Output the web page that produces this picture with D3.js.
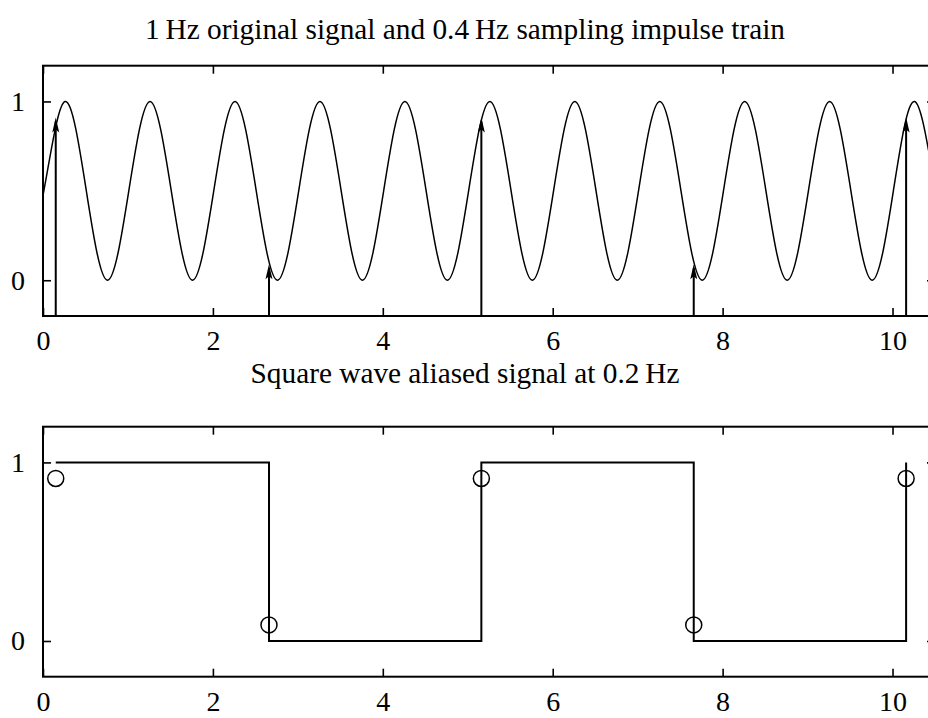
<!DOCTYPE html>
<html><head><meta charset="utf-8">
<script src="https://cdn.jsdelivr.net/npm/d3@7"></script>
<style>body{margin:0;background:#fff}svg{display:block}text{font-family:"Liberation Serif","Times New Roman",serif;fill:#000}</style>
</head><body><svg id="c" width="928" height="718"></svg>
<script>
// ---- data ----
const titleTop = "1\u2009Hz original signal and 0.4\u2009Hz sampling impulse train";
const titleBottom = "Square wave aliased signal at 0.2\u2009Hz";
const xTicks = [0, 2, 4, 6, 8, 10];
const yTicks = [0, 1];
// original 1 Hz signal: crossings, peaks and troughs
const signalT = [-0.24, 0.01, 0.26, 0.51, 0.76, 1.01, 1.26, 1.51, 1.76, 2.01, 2.26, 2.51, 2.76,
  3.01, 3.26, 3.51, 3.76, 4.01, 4.26, 4.51, 4.76, 5.01, 5.26, 5.51, 5.76, 6.01, 6.26, 6.51, 6.76,
  7.01, 7.26, 7.51, 7.76, 8.01, 8.26, 8.51, 8.76, 9.01, 9.26, 9.51, 9.76, 10.01, 10.26, 10.51, 10.76];
const signalV = [0, 0.5, 1, 0.5, 0, 0.5, 1, 0.5, 0, 0.5, 1, 0.5, 0,
  0.5, 1, 0.5, 0, 0.5, 1, 0.5, 0, 0.5, 1, 0.5, 0, 0.5, 1, 0.5, 0,
  0.5, 1, 0.5, 0, 0.5, 1, 0.5, 0, 0.5, 1, 0.5, 0, 0.5, 1, 0.5, 0];
// sampling instants and sampled values
const sampleT = [0.15, 2.66, 5.16, 7.66, 10.16];
const sampleV = [0.91, 0.09, 0.91, 0.09, 0.91];
// aliased square wave levels at each sample instant
const squareV = [1, 0, 1, 0, 1];

const svg = d3.select("#c");
const x = d3.scaleLinear().domain([0, 10.5]).range([43, 935]);
const panels = [
  {y: d3.scaleLinear().domain([-0.2, 1.2]).range([316, 65.7]), title: titleTop, ty: 39},
  {y: d3.scaleLinear().domain([-0.2, 1.2]).range([676.7, 426.7]), title: titleBottom, ty: 383}
];

panels.forEach((p, i) => {
  const [yb, yt] = p.y.range();
  const g = svg.append("g");
  const cid = "clip" + i;
  svg.append("clipPath").attr("id", cid).append("rect")
    .attr("x", x(0)).attr("y", yt).attr("width", x(10.5) - x(0)).attr("height", yb - yt);

  // axes with inward ticks
  const ax = (gen, tx, ty2) => {
    const a = g.append("g").attr("transform", `translate(${tx},${ty2})`).call(gen);
    a.select(".domain").remove();
    a.selectAll("line").attr("stroke", "#000").attr("stroke-width", 1.6);
    a.selectAll("text").attr("font-size", 28).attr("font-family", "Liberation Serif");
    return a;
  };
  const fmt = d3.format("d");
  ax(d3.axisBottom(x).tickValues(xTicks).tickFormat(fmt).tickSizeInner(-8).tickSizeOuter(0).tickPadding(14), 0, yb);
  ax(d3.axisTop(x).tickValues(xTicks).tickSizeInner(-8).tickSizeOuter(0).tickFormat(""), 0, yt);
  ax(d3.axisLeft(p.y).tickValues(yTicks).tickFormat(fmt).tickSizeInner(-8).tickSizeOuter(0).tickPadding(18), x(0), 0);
  ax(d3.axisRight(p.y).tickValues(yTicks).tickSizeInner(-8).tickSizeOuter(0).tickFormat(""), x(10.5), 0);

  g.append("rect").attr("x", x(0)).attr("y", yt).attr("width", x(10.5) - x(0)).attr("height", yb - yt)
    .attr("fill", "none").attr("stroke", "#000").attr("stroke-width", 2);

  svg.append("text").attr("x", 465).attr("y", p.ty).attr("text-anchor", "middle")
    .attr("font-size", 29.3).text(p.title);

  const plot = svg.append("g").attr("clip-path", `url(#${cid})`);
  if (i === 0) {
    const line = d3.line().x(d => x(d[0])).y(d => p.y(d[1])).curve(d3.curveNatural);
    plot.append("path").datum(signalT.map((t, k) => [t, signalV[k]]))
      .attr("d", line).attr("fill", "none").attr("stroke", "#000").attr("stroke-width", 1.5);
    sampleT.forEach((t, k) => {
      const px = x(t), ptip = p.y(sampleV[k]);
      plot.append("line").attr("x1", px).attr("x2", px).attr("y1", yb).attr("y2", ptip + 4)
        .attr("stroke", "#000").attr("stroke-width", 2);
      plot.append("path")
        .attr("d", `M${px},${ptip} L${px + 3.5},${ptip + 15} L${px},${ptip + 12} L${px - 3.5},${ptip + 15} Z`)
        .attr("fill", "#000");
    });
  } else {
    const line = d3.line().x(d => x(d[0])).y(d => p.y(d[1])).curve(d3.curveStepAfter);
    plot.append("path").datum(sampleT.map((t, k) => [t, squareV[k]]))
      .attr("d", line).attr("fill", "none").attr("stroke", "#000").attr("stroke-width", 2);
    plot.selectAll("circle.s").data(sampleT).join("circle")
      .attr("cx", d => x(d)).attr("cy", (d, k) => p.y(sampleV[k])).attr("r", 8)
      .attr("fill", "none").attr("stroke", "#000").attr("stroke-width", 1.5);
  }
});
</script></body></html>
